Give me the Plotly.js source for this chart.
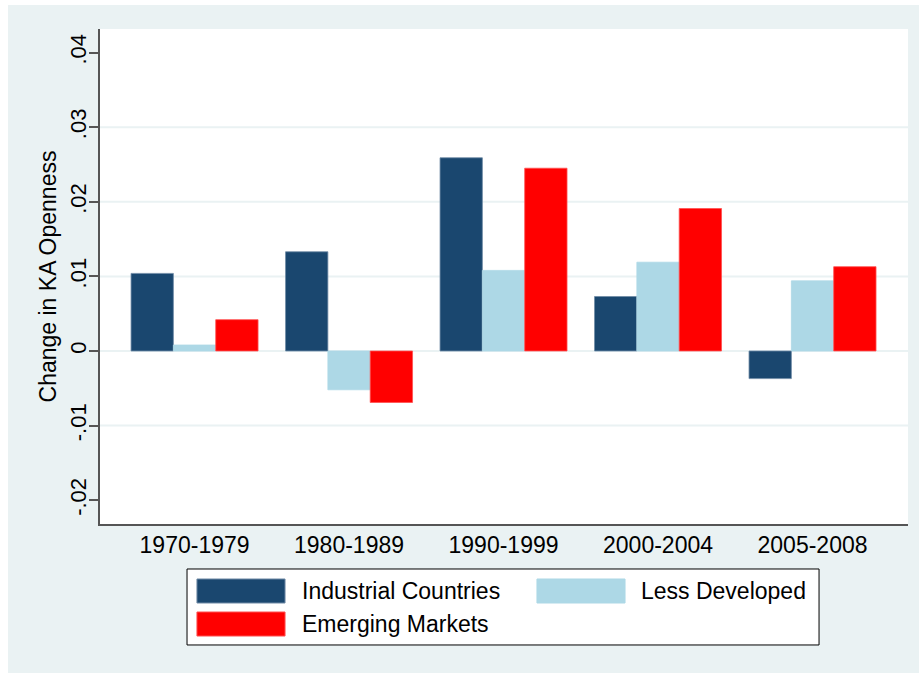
<!DOCTYPE html>
<html>
<head>
<meta charset="utf-8">
<script src="https://cdn.plot.ly/plotly-3.0.1.min.js"></script>
<style>
  html, body { margin: 0; padding: 0; background: #ffffff; }
  #chart { position: absolute; left: 8px; top: 5px; width: 911px; height: 668px; }
</style>
</head>
<body>
<div id="chart"></div>
<script>
// ---- Data ----
const periods = ["1970-1979", "1980-1989", "1990-1999", "2000-2004", "2005-2008"];
const industrial = [0.0104, 0.0133, 0.0259, 0.0073, -0.0037];
const lessDeveloped = [0.0008, -0.0052, 0.0108, 0.0119, 0.0094];
const emerging = [0.0042, -0.0069, 0.0245, 0.0191, 0.0113];
const seriesNames = ["Industrial Countries", "Less Developed", "Emerging Markets"];
const seriesColors = ["#1a476f", "#add8e6", "#ff0000"];
const yTickVals = [-0.02, -0.01, 0, 0.01, 0.02, 0.03, 0.04];
const yTickText = ["-.02", "-.01", "0", ".01", ".02", ".03", ".04"];
const gridVals = [-0.01, 0, 0.01, 0.02, 0.03];

const FONT = "'Liberation Sans', Arial, Helvetica, sans-serif";
const seriesValues = [industrial, lessDeveloped, emerging];
const edgeColors = ["#6f8aa6", "#add8e6", "#ff5050"];

const traces = seriesValues.map((vals, i) => ({
  type: "bar",
  name: seriesNames[i],
  x: periods,
  y: vals,
  marker: { color: seriesColors[i], line: { color: edgeColors[i], width: 0.8 } },
  hoverinfo: "x+y+name"
}));

const shapes = gridVals.map(v => ({
  type: "line", xref: "paper", yref: "y", x0: 0, x1: 1, y0: v, y1: v,
  line: { color: "#eaf2f3", width: 2 }, layer: "below"
}));

// Legend (custom, wide swatches like the original)
shapes.push({
  type: "rect", xref: "paper", yref: "paper",
  x0: 0.1077, x1: 0.8899, y0: -0.2444, y1: -0.0909,
  fillcolor: "#ffffff", line: { color: "#000000", width: 1 }
});
const keyPos = [
  { x0: 0.1200, x1: 0.2290, y0: -0.1596, y1: -0.1111, tx: 0.2475, ty: -0.1354 },
  { x0: 0.5408, x1: 0.6498, y0: -0.1596, y1: -0.1111, tx: 0.6671, ty: -0.1354 },
  { x0: 0.1200, x1: 0.2290, y0: -0.2263, y1: -0.1778, tx: 0.2475, ty: -0.2020 }
];
const annotations = [];
keyPos.forEach((k, i) => {
  shapes.push({
    type: "rect", xref: "paper", yref: "paper",
    x0: k.x0, x1: k.x1, y0: k.y0, y1: k.y1,
    fillcolor: seriesColors[i], line: { color: edgeColors[i], width: 1 }
  });
  annotations.push({
    xref: "paper", yref: "paper", x: k.tx, y: k.ty,
    xanchor: "left", yanchor: "middle", showarrow: false,
    text: seriesNames[i], font: { family: FONT, size: 23, color: "#000000" }
  });
});

const layout = {
  width: 911, height: 668,
  margin: { l: 92, r: 11, t: 24, b: 149 },
  paper_bgcolor: "#eaf2f3",
  plot_bgcolor: "#ffffff",
  font: { family: FONT, size: 23, color: "#000000" },
  showlegend: false,
  barmode: "group",
  bargap: 0.178,
  bargroupgap: 0,
  xaxis: {
    type: "category",
    range: [-0.612, 4.618],
    showgrid: false,
    zeroline: false,
    showline: true, linecolor: "#555555", linewidth: 1.5,
    ticks: "",
    tickfont: { family: FONT, size: 23, color: "#000000" },
    fixedrange: true
  },
  yaxis: {
    range: [-0.02319, 0.04316],
    tickmode: "array",
    tickvals: yTickVals,
    ticktext: yTickText,
    tickangle: -90,
    showgrid: false,
    zeroline: false,
    showline: true, linecolor: "#555555", linewidth: 1.5,
    ticks: "outside", ticklen: 9, tickwidth: 1.5, tickcolor: "#555555",
    ticklabelstandoff: -6,
    tickfont: { family: FONT, size: 22, color: "#000000" },
    title: { text: "Change in KA Openness", font: { family: FONT, size: 23, color: "#000000" }, standoff: 3 },
    fixedrange: true
  },
  shapes: shapes,
  annotations: annotations
};

Plotly.newPlot("chart", traces, layout, { displayModeBar: false, staticPlot: false });
</script>
</body>
</html>
